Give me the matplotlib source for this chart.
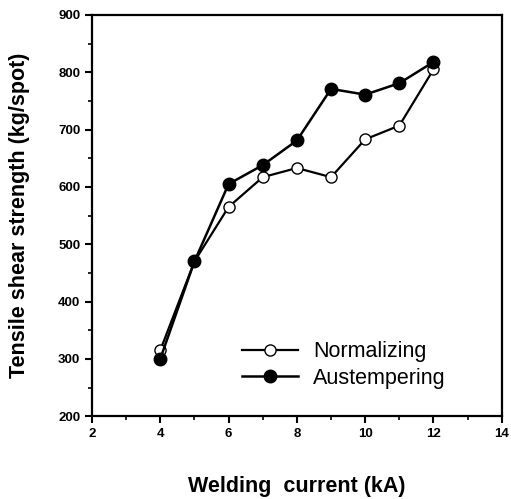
import matplotlib
matplotlib.use('Agg')
import matplotlib.pyplot as plt
from matplotlib.ticker import MultipleLocator

# welding current (kA)
current = [4, 5, 6, 7, 8, 9, 10, 11, 12]
# tensile shear strength (kg/spot)
normalizing = [315, 470, 565, 617, 633, 617, 683, 707, 805]
austempering = [300, 470, 605, 638, 681, 771, 761, 781, 818]

plt.rcParams['font.family'] = ['Liberation Sans', 'DejaVu Sans']

fig = plt.figure(figsize=(5.11, 4.99), dpi=100)
ax = fig.add_axes([0.18, 0.166, 0.802, 0.804])

ax.plot(current, normalizing, '-', color='black', lw=1.6,
        marker='o', markersize=8, markerfacecolor='white',
        markeredgecolor='black', markeredgewidth=1.0, label='Normalizing')
ax.plot(current, austempering, '-', color='black', lw=1.8,
        marker='o', markersize=9, markerfacecolor='black',
        markeredgecolor='black', label='Austempering')

ax.set_xlim(2, 14)
ax.set_ylim(200, 900)
ax.xaxis.set_major_locator(MultipleLocator(2))
ax.xaxis.set_minor_locator(MultipleLocator(1))
ax.yaxis.set_major_locator(MultipleLocator(100))
ax.yaxis.set_minor_locator(MultipleLocator(50))
ax.tick_params(which='major', direction='out', length=5, width=1.5,
               labelsize=9.5)
ax.tick_params(which='minor', direction='out', length=3, width=1.2)
for lab in ax.get_xticklabels() + ax.get_yticklabels():
    lab.set_fontweight('bold')
for s in ax.spines.values():
    s.set_linewidth(1.6)

ax.set_xlabel('Welding  current (kA)', fontsize=15.5, fontweight='bold',
              labelpad=26)
ax.set_ylabel('Tensile shear strength (kg/spot)', fontsize=15.5,
              fontweight='bold', labelpad=20)

ax.legend(loc='lower right', bbox_to_anchor=(0.91, 0.02), frameon=False,
          fontsize=15.5, handlelength=2.6, handletextpad=0.7,
          labelspacing=0.25)

plt.savefig('out.png', dpi=100)
